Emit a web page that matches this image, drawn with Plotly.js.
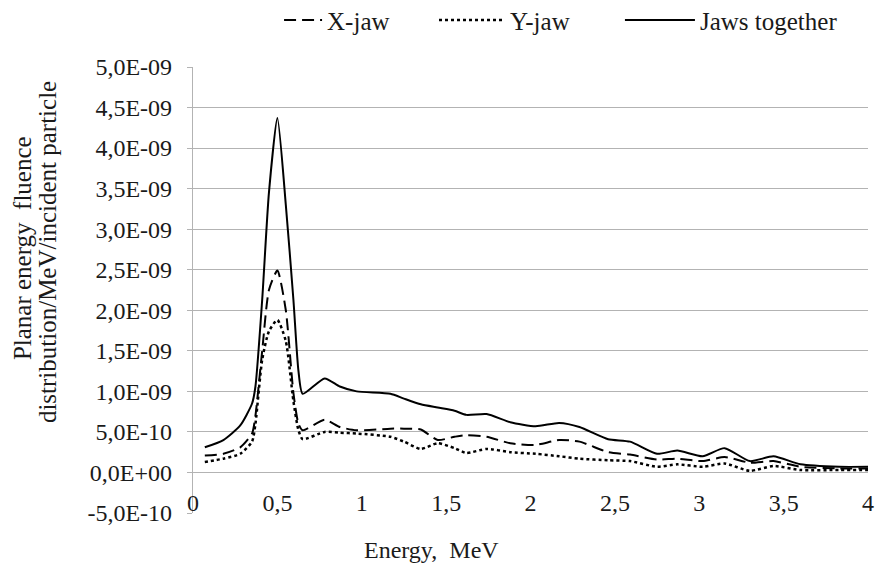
<!DOCTYPE html>
<html>
<head>
<meta charset="utf-8">
<script src="https://cdn.plot.ly/plotly-3.0.1.min.js"></script>
<style>
html,body{margin:0;padding:0;background:#fff;}
#chart svg text{font-family:'Liberation Serif','Times New Roman',serif !important;}
</style>
</head>
<body>
<div id="chart" style="width:878px;height:569px"></div>
<script>
// Energy grid (MeV)
const energy = [0.07,0.18,0.28,0.35,0.37,0.41,0.45,0.50,0.55,0.595,0.625,0.65,0.78,0.87,0.97,1.17,1.25,1.35,1.45,1.55,1.62,1.74,1.88,2.03,2.17,2.29,2.46,2.59,2.75,2.87,3.02,3.15,3.30,3.44,3.60,3.83,4.00];

// Planar energy fluence distribution / MeV / incident particle
const xJaw = [0.21e-9,0.23e-9,0.31e-9,0.48e-9,0.70e-9,1.50e-9,2.25e-9,2.49e-9,2.00e-9,0.98e-9,0.60e-9,0.52e-9,0.65e-9,0.56e-9,0.52e-9,0.54e-9,0.54e-9,0.53e-9,0.40e-9,0.44e-9,0.46e-9,0.44e-9,0.36e-9,0.34e-9,0.40e-9,0.38e-9,0.25e-9,0.22e-9,0.16e-9,0.17e-9,0.14e-9,0.19e-9,0.12e-9,0.14e-9,0.07e-9,0.05e-9,0.05e-9];
const yJaw = [0.13e-9,0.17e-9,0.23e-9,0.38e-9,0.60e-9,1.39e-9,1.74e-9,1.88e-9,1.62e-9,0.88e-9,0.52e-9,0.41e-9,0.50e-9,0.49e-9,0.48e-9,0.44e-9,0.38e-9,0.29e-9,0.36e-9,0.30e-9,0.24e-9,0.29e-9,0.25e-9,0.23e-9,0.20e-9,0.17e-9,0.15e-9,0.14e-9,0.07e-9,0.10e-9,0.07e-9,0.11e-9,0.02e-9,0.08e-9,0.03e-9,0.03e-9,0.03e-9];
const together = [0.31e-9,0.40e-9,0.58e-9,0.85e-9,1.06e-9,2.13e-9,3.45e-9,4.37e-9,3.30e-9,2.13e-9,1.25e-9,0.97e-9,1.16e-9,1.06e-9,1.00e-9,0.97e-9,0.91e-9,0.84e-9,0.80e-9,0.76e-9,0.71e-9,0.72e-9,0.62e-9,0.57e-9,0.61e-9,0.56e-9,0.41e-9,0.38e-9,0.23e-9,0.27e-9,0.20e-9,0.30e-9,0.14e-9,0.20e-9,0.10e-9,0.07e-9,0.07e-9];

const seriesNames = ["X-jaw","Y-jaw","Jaws together"];

// Tick labels
const xTickVals = [0,0.5,1,1.5,2,2.5,3,3.5,4];
const xTickText = ["0","0,5","1","1,5","2","2,5","3","3,5","4"];
const yTickVals = [-5e-10,0,5e-10,1e-9,1.5e-9,2e-9,2.5e-9,3e-9,3.5e-9,4e-9,4.5e-9,5e-9];
const yTickText = ["-5,0E-10","0,0E+00","5,0E-10","1,0E-09","1,5E-09","2,0E-09","2,5E-09","3,0E-09","3,5E-09","4,0E-09","4,5E-09","5,0E-09"];

const F24 = {family: "Liberation Serif", size: 24, color: "#1a1a1a"};
const F25 = {family: "Liberation Serif", size: 25, color: "#1a1a1a"};

const traces = [
  {x: energy, y: xJaw, name: seriesNames[0], mode: "lines", legend: "legend",
   line: {color: "#000", width: 2, dash: "12px,6px", shape: "spline", smoothing: 0.6}},
  {x: energy, y: yJaw, name: seriesNames[1], mode: "lines", legend: "legend2",
   line: {color: "#000", width: 2.5, dash: "dot", shape: "spline", smoothing: 0.6}},
  {x: energy, y: together, name: seriesNames[2], mode: "lines", legend: "legend3",
   line: {color: "#000", width: 2, shape: "spline", smoothing: 0.6}}
];

const legY = 1.105;
const layout = {
  width: 878, height: 569,
  paper_bgcolor: "#fff", plot_bgcolor: "#fff",
  margin: {l: 193, r: 10, t: 67, b: 56, autoexpand: false},
  font: F24,
  showlegend: true,
  legend:  {orientation: "h", x: 0.1275, xanchor: "left", y: legY, yanchor: "middle",
            font: F25, itemwidth: 38, bgcolor: "rgba(0,0,0,0)"},
  legend2: {orientation: "h", x: 0.357, xanchor: "left", y: legY, yanchor: "middle",
            font: F25, itemwidth: 66, bgcolor: "rgba(0,0,0,0)"},
  legend3: {orientation: "h", x: 0.6325, xanchor: "left", y: legY, yanchor: "middle",
            font: F25, itemwidth: 70, bgcolor: "rgba(0,0,0,0)"},
  xaxis: {range: [0, 4], tickvals: xTickVals, ticktext: xTickText,
          showgrid: false, zeroline: false, showline: false,
          ticks: "", ticklabelposition: "inside", ticklabeloverflow: "allow",
          ticklabelstandoff: -6, automargin: false,
          tickfont: F24},
  yaxis: {range: [-5e-10, 5e-9], tickvals: yTickVals, ticktext: yTickText,
          showgrid: true, gridcolor: "#b3b3b3", gridwidth: 1.3,
          zeroline: false, showline: true, linecolor: "#b3b3b3", linewidth: 1.3,
          ticks: "outside", ticklen: 5, tickcolor: "#b3b3b3", tickwidth: 1.3,
          ticklabelstandoff: 10, automargin: false,
          tickfont: F24},
  annotations: [
    {text: "Planar energy&nbsp; fluence",
     xref: "paper", yref: "paper", x: -0.2533, y: 0.594, xanchor: "center", yanchor: "middle",
     textangle: -90, showarrow: false, font: F25},
    {text: "distribution/MeV/incident particle",
     xref: "paper", yref: "paper", x: -0.2163, y: 0.585, xanchor: "center", yanchor: "middle",
     textangle: -90, showarrow: false, font: F25},
    {text: "Energy,&nbsp; MeV", xref: "paper", yref: "paper", x: 0.354, y: -0.083,
     xanchor: "center", yanchor: "middle", showarrow: false, font: F24}
  ]
};

Plotly.newPlot("chart", traces, layout, {displayModeBar: false});
</script>
</body>
</html>
